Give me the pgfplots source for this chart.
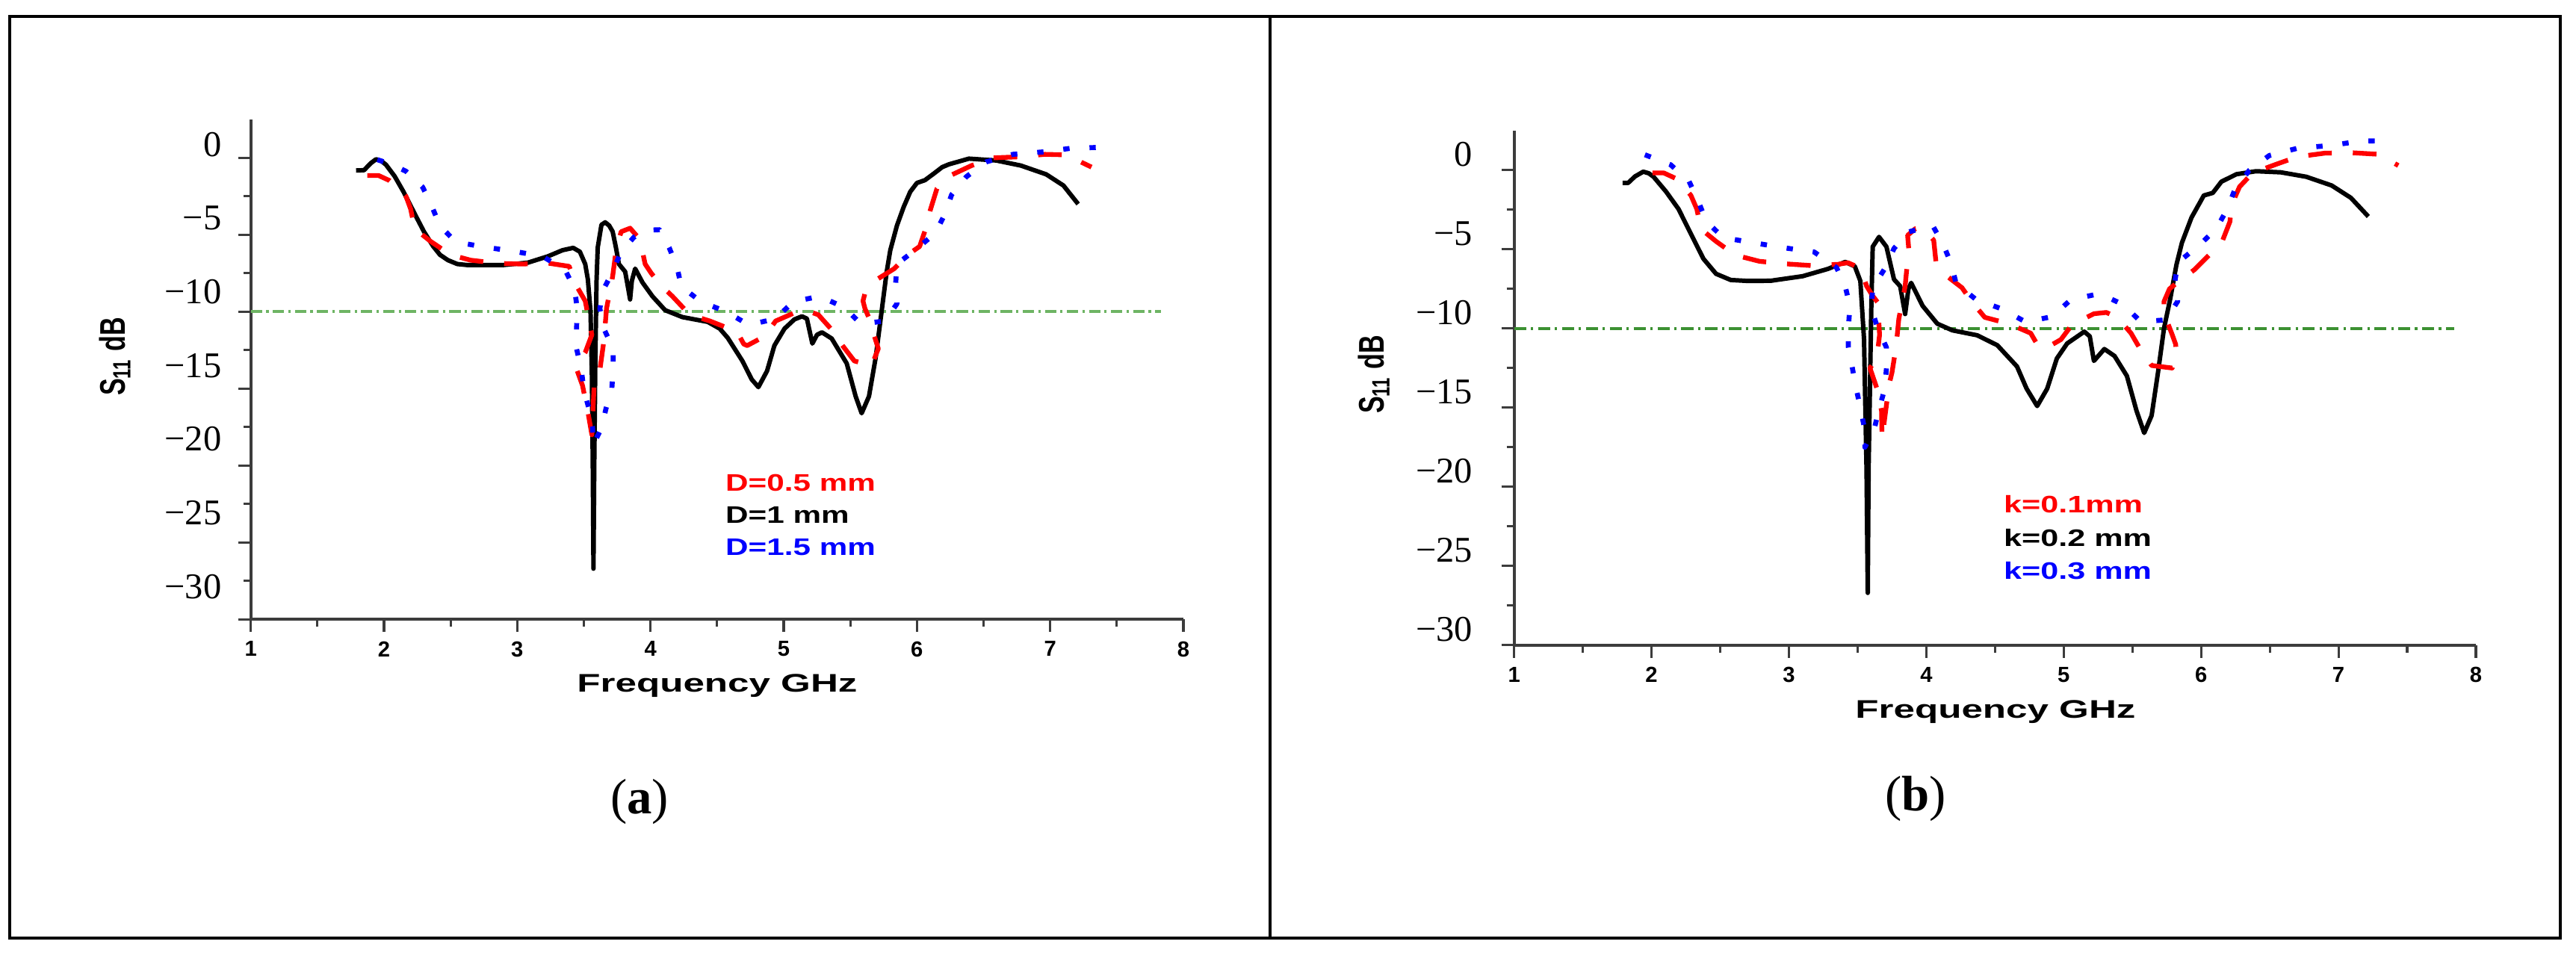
\documentclass[border=0pt]{standalone}
\usepackage{fontspec}
\usepackage{graphicx}
\usepackage{pgfplots}
\pgfplotsset{compat=1.18}
\newfontfamily\arial{Liberation Sans}
\newfontfamily\tnr{Liberation Serif}

\definecolor{ga}{RGB}{110,180,100}
\definecolor{gb}{RGB}{60,145,50}
\definecolor{axgray}{RGB}{60,60,60}

\pgfplotsset{
  s11/.style={
    scale only axis, anchor=south west, clip=false,
    xmin=1, xmax=8, ymin=-30, ymax=2.5,
    axis lines*=left,
    axis line style={line width=1.1pt, axgray},
    xtick={1,2,3,4,5,6,7,8}, xticklabels={1,2,3,4,5,6,7,8},
    ytick={-30,-25,-20,-15,-10,-5,0},
    yticklabels={−30,−25,−20,−15,−10,−5,0},
    minor x tick num=1, minor y tick num=1,
    tick align=outside,
    tick style={line width=0.9pt, axgray},
    major tick length=0.17cm, minor tick length=0.1cm,
    xticklabel style={font=\arial\bfseries\fontsize{8.3}{9}\selectfont},
    yticklabel style={font=\tnr\fontsize{13.8}{14}\selectfont, anchor=east},
  },
  bl/.style={black, line width=1.7pt, line join=round},
  rd/.style={red, line width=1.8pt, line join=round, dash pattern=on 9pt off 8pt},
  bu/.style={blue, line width=1.9pt, line join=round, dash pattern=on 2.4pt off 7.6pt},
}

\newcommand{\lab}[2]{{\arial\bfseries\fontsize{9.1}{10}\selectfont\scalebox{#1}[1]{#2}}}

\begin{document}
\begin{tikzpicture}
\path[use as bounding box] (0,0) rectangle (34.48,12.8);
\draw[line width=1.2pt] (0.13,0.24) rectangle (17.0,12.58);
\draw[line width=1.2pt] (17.0,0.24) rectangle (34.27,12.58);

% ---------------- panel (a)
\begin{axis}[s11, at={(3.357cm,4.506cm)}, width=12.483cm, height=6.695cm,
  yticklabel style={xshift=-0.1cm, yshift={(0.44-0.0433*\ticknum)*1cm}}]
\addplot[ga, line width=1.15pt, dash pattern=on 4.3pt off 1.6pt on 0.9pt off 1.6pt] coordinates {(1,-10) (7.83,-10)};
% D=1 mm
\addplot[bl] coordinates {
(1.79,-0.82) (1.85,-0.80) (1.90,-0.35) (1.94,-0.09) (1.98,-0.2) (2.015,-0.45) (2.08,-1.2)
(2.146,-2.2) (2.24,-3.8) (2.30,-4.8) (2.37,-5.76) (2.42,-6.3) (2.48,-6.65) (2.55,-6.9)
(2.63,-6.97) (2.89,-6.97) (3.08,-6.81) (3.23,-6.4) (3.34,-6.0) (3.42,-5.85) (3.47,-6.1)
(3.51,-6.9) (3.53,-7.9) (3.55,-10.0) (3.56,-14) (3.567,-20) (3.572,-26.7) (3.578,-20)
(3.586,-13.2) (3.595,-8) (3.604,-5.83) (3.632,-4.35) (3.66,-4.19) (3.69,-4.4) (3.716,-4.79)
(3.74,-5.8) (3.763,-6.9) (3.81,-7.4) (3.835,-8.6) (3.847,-9.2) (3.86,-8.0) (3.885,-7.2)
(3.94,-8.1) (4.015,-9.0) (4.11,-9.9) (4.24,-10.35) (4.43,-10.66) (4.52,-11.1) (4.58,-11.7)
(4.69,-13.2) (4.76,-14.4) (4.81,-14.9) (4.875,-13.85) (4.93,-12.2) (5.006,-11.1) (5.08,-10.5)
(5.137,-10.3) (5.174,-10.45) (5.215,-12.07) (5.25,-11.5) (5.287,-11.34) (5.36,-11.74)
(5.473,-13.36) (5.54,-15.5) (5.585,-16.6) (5.64,-15.5) (5.69,-13.0) (5.735,-9.97) (5.773,-7.4)
(5.80,-6.0) (5.85,-4.4) (5.90,-3.2) (5.95,-2.2) (6.0,-1.63) (6.06,-1.45) (6.13,-1.0)
(6.19,-0.6) (6.24,-0.42) (6.39,-0.05) (6.595,-0.17) (6.78,-0.5) (6.97,-1.07) (7.1,-1.8) (7.21,-3.0)};
% D=0.5 mm
\addplot[rd] coordinates {
(1.875,-1.15) (1.96,-1.15) (2.04,-1.47) (2.1,-1.9) (2.165,-2.5) (2.2,-3.33) (2.23,-4.6)
(2.35,-5.43) (2.5,-6.3) (2.65,-6.65) (2.86,-6.86) (3.04,-6.9) (3.23,-6.84) (3.39,-7.05)
(3.44,-8.25) (3.51,-9.3) (3.56,-11.5) (3.51,-12.65) (3.44,-13.6) (3.49,-14.8) (3.53,-16.5)
(3.56,-18.0) (3.577,-14.8) (3.62,-13.8) (3.65,-11.9) (3.67,-9.8) (3.716,-7.7) (3.745,-5.8)
(3.78,-4.8) (3.847,-4.57) (3.92,-5.3) (3.96,-6.9) (4.006,-7.5) (4.08,-8.3) (4.165,-9.0)
(4.295,-10.2) (4.445,-10.6) (4.65,-11.3) (4.7,-12.1) (4.726,-12.2) (4.856,-11.6) (4.94,-10.6)
(5.1,-10.0) (5.175,-9.93) (5.26,-10.2) (5.37,-11.26) (5.43,-12.07) (5.53,-13.2) (5.66,-13.5)
(5.71,-12.4) (5.67,-11.3) (5.64,-10.4) (5.61,-9.8) (5.595,-9.3) (5.61,-8.8) (5.70,-7.9)
(5.83,-7.2) (5.94,-6.24) (6.02,-5.76) (6.07,-4.5) (6.1,-3.4) (6.15,-2.0) (6.25,-1.15)
(6.41,-0.5) (6.57,0) (6.77,0.07) (6.96,0.23) (7.1,0.2) (7.15,0.07) (7.31,-0.6)};
% D=1.5 mm
\addplot[bu] coordinates {
(1.95,-0.12) (2.05,-0.4) (2.165,-0.87) (2.29,-1.9) (2.36,-3.17) (2.42,-4.43) (2.54,-5.47)
(2.75,-5.79) (2.98,-6.08) (3.19,-6.4) (3.36,-7.3) (3.43,-8.5) (3.45,-9.8) (3.445,-11.1)
(3.445,-12.4) (3.48,-13.7) (3.50,-15.1) (3.535,-16.2) (3.565,-17.5) (3.57,-18.65) (3.63,-17.6)
(3.666,-16.3) (3.71,-15.0) (3.72,-13.7) (3.72,-12.4) (3.655,-11.2) (3.62,-9.8) (3.64,-8.67)
(3.716,-7.4) (3.776,-6.15) (3.875,-5.16) (3.97,-4.7) (4.07,-4.67) (4.14,-5.83) (4.2,-7.1)
(4.23,-8.35) (4.38,-9.36) (4.57,-10.0) (4.72,-10.77) (4.744,-10.85) (4.94,-10.45) (5.07,-9.35)
(5.27,-9.0) (5.455,-9.72) (5.58,-10.8) (5.76,-10.6) (5.85,-9.48) (5.84,-8.2) (5.85,-6.9)
(6.0,-5.9) (6.14,-4.87) (6.21,-3.65) (6.26,-2.4) (6.37,-1.23) (6.52,-0.26) (6.72,0.23)
(6.95,0.39) (7.17,0.64) (7.38,0.68)};
\node[anchor=west, text=red, inner sep=0] at (axis cs:4.56,-21.1) {\lab{1.32}{D=0.5 mm}};
\node[anchor=west, text=black, inner sep=0] at (axis cs:4.56,-23.2) {\lab{1.32}{D=1 mm}};
\node[anchor=west, text=blue, inner sep=0] at (axis cs:4.56,-25.3) {\lab{1.32}{D=1.5 mm}};
\end{axis}

% ---------------- panel (b)
\begin{axis}[s11, at={(20.266cm,4.162cm)}, width=12.874cm, height=6.89cm,
  yticklabel style={xshift=-0.26cm, yshift=0.21cm}]
\addplot[gb, line width=1.15pt, dash pattern=on 4.6pt off 1.8pt on 0.9pt off 1.8pt] coordinates {(1,-10) (7.84,-10)};
% k=0.2 mm
\addplot[bl] coordinates {
(1.79,-0.81) (1.83,-0.81) (1.88,-0.4) (1.94,-0.1) (1.98,-0.2) (2.015,-0.42) (2.106,-1.36)
(2.197,-2.46) (2.287,-4.03) (2.378,-5.6) (2.47,-6.55) (2.577,-6.94) (2.7,-7.0) (2.867,-6.99)
(3.10,-6.7) (3.284,-6.24) (3.41,-5.8) (3.48,-6.08) (3.52,-7.0) (3.547,-10.7) (3.565,-18.9)
(3.574,-26.7) (3.58,-18.9) (3.60,-8.57) (3.61,-4.84) (3.656,-4.22) (3.71,-4.84) (3.765,-6.9)
(3.81,-7.33) (3.846,-9.09) (3.87,-7.5) (3.89,-7.12) (3.973,-8.57) (4.08,-9.7) (4.19,-10.12)
(4.37,-10.43) (4.517,-11.06) (4.66,-12.4) (4.73,-13.8) (4.807,-14.9) (4.88,-13.8) (4.95,-11.9)
(5.025,-10.95) (5.15,-10.2) (5.19,-10.5) (5.22,-12.05) (5.296,-11.3) (5.37,-11.74) (5.46,-13.0)
(5.53,-15.2) (5.586,-16.6) (5.64,-15.5) (5.686,-12.8) (5.73,-10.0) (5.776,-8.1) (5.82,-6.0)
(5.86,-4.6) (5.93,-3.0) (6.02,-1.6) (6.085,-1.44) (6.148,-0.73) (6.257,-0.26) (6.40,-0.07)
(6.58,-0.14) (6.765,-0.42) (6.95,-0.97) (7.09,-1.75) (7.217,-2.93)};
% k=0.1mm
\addplot[rd] coordinates {
(2.007,-0.18) (2.09,-0.18) (2.19,-0.58) (2.287,-1.6) (2.33,-2.46) (2.36,-3.72) (2.47,-4.5)
(2.61,-5.37) (2.786,-5.76) (2.976,-5.92) (3.166,-6.03) (3.357,-5.95) (3.43,-5.85) (3.52,-6.19)
(3.566,-7.33) (3.61,-7.95) (3.647,-8.36) (3.656,-9.8) (3.66,-10.4) (3.64,-11.9) (3.59,-12.5)
(3.647,-13.95) (3.674,-15.2) (3.678,-16.96) (3.73,-13.5) (3.75,-12.8) (3.78,-11.16) (3.8,-9.4)
(3.846,-7.33) (3.855,-6.5) (3.873,-5.05) (3.864,-4.12) (3.92,-3.7) (3.973,-3.64) (4.054,-4.43)
(4.07,-5.77) (4.136,-6.6) (4.26,-7.43) (4.335,-8.36) (4.426,-9.3) (4.6,-9.7) (4.76,-10.3)
(4.82,-11.2) (4.9,-11.1) (4.98,-10.7) (5.06,-9.77) (5.22,-9.07) (5.31,-8.99) (5.39,-9.3)
(5.49,-10.3) (5.55,-11.2) (5.64,-12.34) (5.79,-12.5) (5.82,-11.6) (5.815,-11.0) (5.79,-10.4)
(5.75,-9.5) (5.73,-9.0) (5.73,-8.3) (5.77,-7.5) (5.84,-7.0) (5.95,-6.3) (6.066,-5.3)
(6.157,-4.43) (6.21,-3.25) (6.22,-2.23) (6.28,-1.05) (6.375,-0.18) (6.547,0.37) (6.70,0.84)
(6.9,1.07) (7.09,1.1) (7.29,1.0) (7.435,0.29)};
% k=0.3 mm
\addplot[bu] coordinates {
(1.952,0.97) (2.139,0.34) (2.273,-0.7) (2.34,-1.96) (2.4,-3.25) (2.523,-4.27) (2.737,-4.58)
(2.96,-4.9) (3.184,-5.17) (3.347,-6.16) (3.41,-7.33) (3.444,-8.6) (3.433,-9.96) (3.433,-11.2)
(3.462,-12.5) (3.49,-13.8) (3.52,-15.0) (3.55,-16.3) (3.553,-17.5) (3.62,-16.4) (3.656,-15.1)
(3.698,-13.8) (3.71,-12.5) (3.71,-11.2) (3.647,-10.0) (3.60,-8.74) (3.61,-7.43) (3.70,-6.19)
(3.765,-4.95) (3.868,-3.91) (4.046,-3.5) (4.12,-4.64) (4.18,-5.88) (4.217,-7.16) (4.36,-8.16)
(4.553,-8.78) (4.725,-9.6) (4.916,-9.25) (5.05,-8.2) (5.26,-7.8) (5.435,-8.5) (5.56,-9.57)
(5.744,-9.46) (5.83,-8.28) (5.81,-7.0) (5.83,-5.84) (5.98,-4.79) (6.11,-3.72) (6.19,-2.46)
(6.245,-1.24) (6.35,-0.02) (6.496,0.92) (6.706,1.39) (6.937,1.55) (7.16,1.83) (7.363,1.86)};
\node[anchor=west, text=red, inner sep=0] at (axis cs:4.56,-21.1) {\lab{1.35}{k=0.1mm}};
\node[anchor=west, text=black, inner sep=0] at (axis cs:4.56,-23.2) {\lab{1.35}{k=0.2 mm}};
\node[anchor=west, text=blue, inner sep=0] at (axis cs:4.56,-25.3) {\lab{1.35}{k=0.3 mm}};
\end{axis}

% axis titles and panel captions
\node at (9.60,3.62) {\arial\bfseries\fontsize{9.7}{10}\selectfont\scalebox{1.5}[1]{Frequency GHz}};
\node at (26.71,3.273) {\arial\bfseries\fontsize{9.7}{10}\selectfont\scalebox{1.5}[1]{Frequency GHz}};
\node[rotate=90] at (1.536,8.024) {\arial\bfseries\fontsize{9.7}{10}\selectfont\scalebox{1}[1.4]{S\textsubscript{11} dB}};
\node[rotate=90] at (18.39,7.784) {\arial\bfseries\fontsize{9.7}{10}\selectfont\scalebox{1}[1.4]{S\textsubscript{11} dB}};
\node at (8.56,2.07) {\tnr\fontsize{19}{21}\selectfont(\textbf{a})};
\node at (25.64,2.11) {\tnr\fontsize{19}{21}\selectfont(\textbf{b})};
\end{tikzpicture}
\end{document}
